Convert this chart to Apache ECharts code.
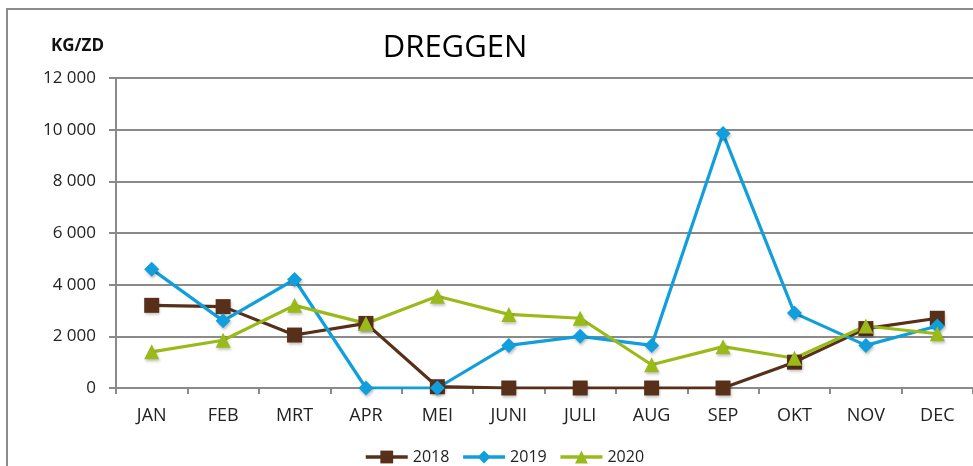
<!DOCTYPE html>
<html>
<head>
<meta charset="utf-8">
<script src="https://cdn.jsdelivr.net/npm/echarts@6/dist/echarts.min.js"></script>
<style>
  html, body { margin: 0; padding: 0; background: #fff; }
  #chart { width: 973px; height: 466px; }
</style>
</head>
<body>
<div id="chart"></div>
<script>
// Monthly catch per sea day (kg) for dredging, per year
const months = ['JAN', 'FEB', 'MRT', 'APR', 'MEI', 'JUNI', 'JULI', 'AUG', 'SEP', 'OKT', 'NOV', 'DEC'];
const values2018 = [3200, 3150, 2050, 2500, 50, 0, 0, 0, 0, 1000, 2300, 2700];
const values2019 = [4600, 2600, 4200, 0, 0, 1650, 2000, 1650, 9850, 2900, 1650, 2400];
const values2020 = [1400, 1850, 3200, 2500, 3550, 2850, 2700, 900, 1600, 1150, 2400, 2100];
const yTicks = [0, 2000, 4000, 6000, 8000, 10000, 12000];

const FONT = '"Open Sans", "Noto Sans", sans-serif';
const GRID_GREY = '#8a8a8a';

function fmt(v) {
  return String(v).replace(/\B(?=(\d{3})+(?!\d))/g, ' ');
}

function lineSeries(name, data, color, symbol, size) {
  return {
    name: name,
    type: 'line',
    data: data,
    symbol: symbol,
    symbolSize: size,
    showAllSymbol: true,
    lineStyle: { color: color, width: 3.2 },
    itemStyle: {
      color: color,
      shadowColor: 'rgba(0,0,0,0.25)',
      shadowBlur: 3,
      shadowOffsetX: 1,
      shadowOffsetY: 2
    },
    emphasis: { disabled: true },
    animation: false
  };
}

const chart = echarts.init(document.getElementById('chart'), null, { renderer: 'canvas' });
chart.setOption({
  backgroundColor: '#fff',
  animation: false,
  textStyle: { fontFamily: FONT },
  graphic: [
    {
      type: 'rect',
      z: -10,
      shape: { x: 7, y: 9, width: 1000, height: 500 },
      style: { fill: 'none', stroke: '#8c8c8c', lineWidth: 2 },
      silent: true
    },
    {
      type: 'text',
      x: 455,
      y: 48,
      style: {
        text: 'DREGGEN', fontFamily: FONT, fontSize: 31, fill: '#000',
        textAlign: 'center', textVerticalAlign: 'middle'
      }
    },
    {
      type: 'text',
      x: 51,
      y: 46,
      style: {
        text: 'KG/ZD', fontFamily: FONT, fontSize: 17, fontWeight: 'bold', fill: '#111',
        textAlign: 'left', textVerticalAlign: 'middle'
      }
    }
  ],
  legend: {
    bottom: 1,
    left: 364,
    padding: [0, 0, 0, 0],
    itemWidth: 42,
    itemHeight: 16,
    itemGap: 12,
    lineStyle: { width: 3.5 },
    textStyle: { fontFamily: FONT, fontSize: 16, color: '#222' },
    data: ['2018', '2019', '2020']
  },
  grid: { left: 116, right: 0, top: 78, bottom: 78, containLabel: false },
  xAxis: {
    type: 'category',
    data: months,
    boundaryGap: true,
    axisLine: { lineStyle: { color: GRID_GREY, width: 2 } },
    axisTick: { show: true, length: 6, lineStyle: { color: GRID_GREY, width: 2 } },
    axisLabel: { fontFamily: FONT, fontSize: 18, color: '#222', margin: 19 },
    splitLine: { show: false }
  },
  yAxis: {
    type: 'value',
    min: yTicks[0],
    max: yTicks[yTicks.length - 1],
    interval: yTicks[1] - yTicks[0],
    axisLine: { show: true, lineStyle: { color: GRID_GREY, width: 2 } },
    axisTick: { show: true, length: 7, lineStyle: { color: GRID_GREY, width: 2 } },
    axisLabel: { fontFamily: FONT, fontSize: 17, color: '#222', margin: 20, formatter: fmt },
    splitLine: { show: true, lineStyle: { color: GRID_GREY, width: 2 } }
  },
  series: [
    lineSeries('2018', values2018, '#58301a', 'rect', 15),
    lineSeries('2019', values2019, '#109fdc', 'diamond', 15),
    lineSeries('2020', values2020, '#9aba1a', 'triangle', 15)
  ]
});
</script>
</body>
</html>
